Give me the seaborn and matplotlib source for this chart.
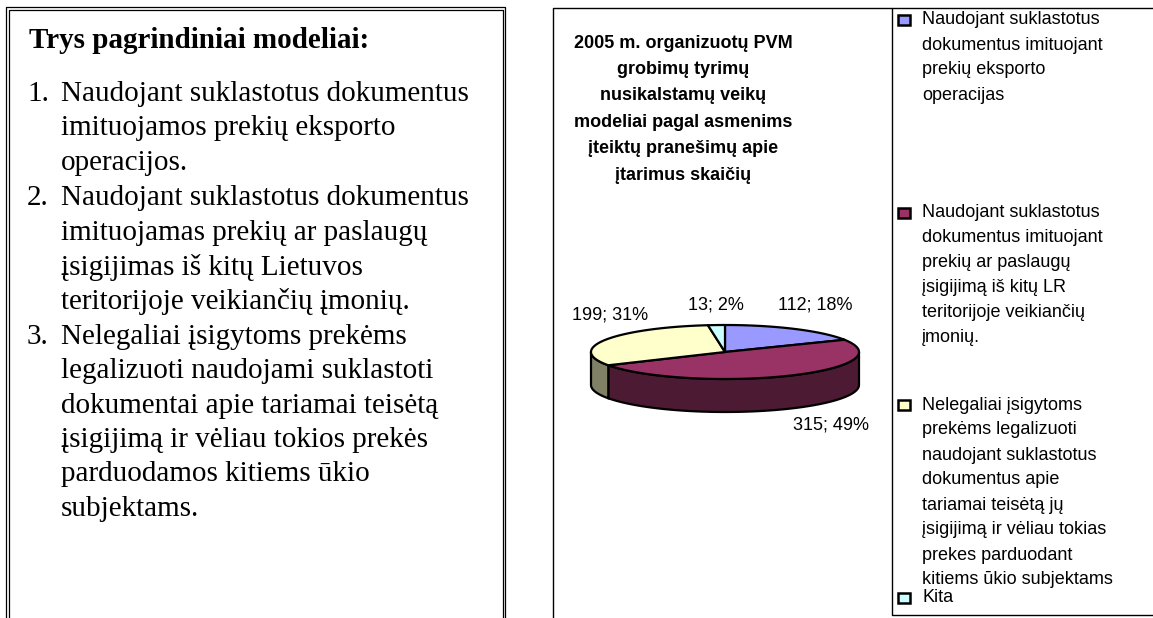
import numpy as np
import matplotlib
matplotlib.use("Agg")
import matplotlib.pyplot as plt
import matplotlib.colors as mcolors
import seaborn as sns
from matplotlib.patches import Rectangle, Polygon

# ================= 配置 =================
sns.set_theme(style="white")
plt.rcParams['font.family'] = ['Liberation Sans', 'DejaVu Sans']
plt.rcParams['text.color'] = 'black'
# ========================================

# --- 数据 ---
values = [112, 315, 199, 13]
top_colors = ["#9999FF", "#993366", "#FFFFCC", "#CCFFFF"]
legend_labels = [
    "Naudojant suklastotus\ndokumentus imituojant\nprekių eksporto\noperacijas",
    "Naudojant suklastotus\ndokumentus imituojant\nprekių ar paslaugų\nįsigijimą iš kitų LR\n"
    "teritorijoje veikiančių\nįmonių.",
    "Nelegaliai įsigytoms\nprekėms legalizuoti\nnaudojant suklastotus\ndokumentus apie\n"
    "tariamai teisėtą jų\nįsigijimą ir vėliau tokias\nprekes parduodant\nkitiems ūkio subjektams",
    "Kita",
]
chart_title = ["2005 m. organizuotų PVM", "grobimų tyrimų", "nusikalstamų veikų",
               "modeliai pagal asmenims", "įteiktų pranešimų apie", "įtarimus skaičių"]
left_title = "Trys pagrindiniai modeliai:"
models = [
    ["Naudojant suklastotus dokumentus", "imituojamos prekių eksporto", "operacijos."],
    ["Naudojant suklastotus dokumentus", "imituojamas prekių ar paslaugų",
     "įsigijimas iš kitų Lietuvos", "teritorijoje veikiančių įmonių."],
    ["Nelegaliai įsigytoms prekėms", "legalizuoti naudojami suklastoti",
     "dokumentai apie tariamai teisėtą", "įsigijimą ir vėliau tokios prekės",
     "parduodamos kitiems ūkio", "subjektams."],
]

# label nudges relative to the rim point (pixels)
label_offsets = [(20, -24), (43, 16), (5, -25), (-1, -20)]

fig = plt.figure(figsize=(11.53, 6.18), dpi=100)
ax = fig.add_axes([0, 0, 1, 1])
ax.set_xlim(0, 1153)
ax.set_ylim(618, 0)
ax.axis('off')

# --- 左侧文本框 ---
for off in (0, 2.5):
    ax.plot([6 + off, 6 + off, 505 - off, 505 - off], [640, 7 + off, 7 + off, 640],
            color='black', lw=0.9)
ax.text(29, 41, left_title, family='Liberation Serif', fontweight='bold',
        fontsize=21, va='center', ha='left')
y = 94
for i, lines in enumerate(models):
    ax.text(27, y, f"{i + 1}.", family='Liberation Serif', fontsize=21, va='center')
    for ln in lines:
        ax.text(61, y, ln, family='Liberation Serif', fontsize=21, va='center')
        y += 34.3
    y += 1.5

# --- 图表框 ---
ax.plot([553, 553, 1160], [640, 7.5, 7.5], color='black', lw=1)
ax.plot([892, 892, 1160], [7.5, 615, 615], color='black', lw=1)

for i, ln in enumerate(chart_title):
    ax.text(683, 43 + 26.4 * i, ln, fontweight='bold', fontsize=13,
            ha='center', va='center')

# --- 3D 饼图 ---
cx, cy, a, b, depth = 725, 352, 134, 27, 33
total = sum(values)
fracs = np.array(values) / total
ends = 90 - 360 * np.cumsum(fracs)
starts = np.concatenate([[90], ends[:-1]])


def rim(t, dz=0):
    t = np.radians(t)
    return np.column_stack([cx + a * np.cos(t), cy - b * np.sin(t) + dz])


# 侧面
for t0, t1, col in zip(starts, ends, top_colors):
    hi, lo = min(t0, 0), max(t1, -180)
    if hi <= lo:
        continue
    ts = np.linspace(hi, lo, 80)
    side = np.vstack([rim(ts), rim(ts[::-1], depth)])
    dark = np.array(mcolors.to_rgb(col)) * 0.5
    ax.add_patch(Polygon(side, closed=True, facecolor=dark, edgecolor='black', lw=1.6))

# 顶面
for t0, t1, col in zip(starts, ends, top_colors):
    ts = np.linspace(t0, t1, 120)
    top = np.vstack([[cx, cy], rim(ts)])
    ax.add_patch(Polygon(top, closed=True, facecolor=col, edgecolor='black', lw=1.6,
                         joinstyle='round'))

# 数据标签
for t0, t1, v, (dx, dy) in zip(starts, ends, values, label_offsets):
    mid = (t0 + t1) / 2
    px, py = rim([mid], depth if np.sin(np.radians(mid)) < 0 else 0)[0]
    ax.text(px + dx, py + dy, f"{v}; {round(v / total * 100)}%", fontsize=13,
            ha='center', va='center')

# --- 图例 ---
for i, (lab, col) in enumerate(zip(legend_labels, top_colors)):
    y0 = 20 + 192.5 * i
    ax.add_patch(Rectangle((898, y0 - 5), 12, 10, facecolor=col, edgecolor='black', lw=1.8))
    for j, ln in enumerate(lab.split("\n")):
        ax.text(922, y0 + 25 * j, ln, fontsize=13, ha='left', va='center')

fig.savefig("out.png", dpi=100)
